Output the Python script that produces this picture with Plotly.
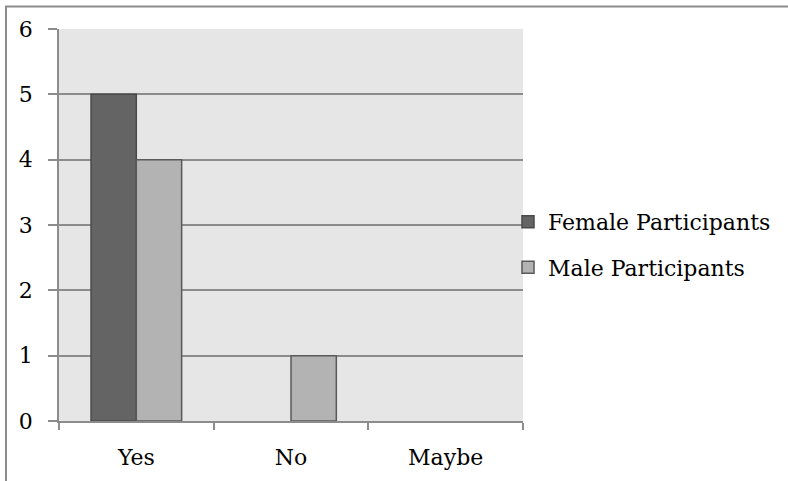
import plotly.graph_objects as go

categories = ["Yes", "No", "Maybe"]
female = [5, 0, 0]
male = [4, 1, 0]
y_ticks = [0, 1, 2, 3, 4, 5, 6]

W, H = 788, 481
L, R, T, B = 59, 523, 28.5, 421.5
pw, ph = R - L, B - T

def px_x(px):
    return (px - L) / pw

def px_y(py):
    return (B - py) / ph

font_family = "DejaVu Serif"
fsize = 22

fig = go.Figure()
fig.add_trace(go.Bar(
    x=categories, y=female, name="Female Participants",
    marker=dict(color="#646464",
                line=dict(color="#4a4a4a", width=[1.5 if v else 0 for v in female])),
    legendgroup="f",
))
fig.add_trace(go.Bar(
    x=categories, y=male, name="Male Participants",
    marker=dict(color="#b3b3b3",
                line=dict(color="#5a5a5a", width=[1.5 if v else 0 for v in male])),
    legendgroup="m",
))

fig.update_layout(
    width=W, height=H,
    margin=dict(l=L, r=W - R, t=T, b=H - B, pad=0),
    paper_bgcolor="white",
    plot_bgcolor="#e6e6e6",
    barmode="group",
    bargap=0.414,
    bargroupgap=0,
    font=dict(family=font_family, size=fsize, color="black"),
    legend=dict(
        x=px_x(508), xanchor="left", y=px_y(245), yanchor="middle",
        font=dict(family=font_family, size=fsize, color="black"),
        traceorder="grouped", tracegroupgap=14,
        bgcolor="rgba(0,0,0,0)",
        itemwidth=30,
    ),
    showlegend=True,
    xaxis=dict(
        type="category",
        showline=True, linecolor="#8c8c8c", linewidth=1.5,
        ticks="outside", tickson="boundaries", ticklen=7, tickcolor="#8c8c8c", tickwidth=1.5,
        showgrid=False,
        ticklabelstandoff=16,
    ),
    yaxis=dict(
        range=[0, 6], tickvals=y_ticks, ticktext=[str(v) for v in y_ticks],
        showline=True, linecolor="#8c8c8c", linewidth=1.5,
        ticks="outside", ticklen=9, tickcolor="#8c8c8c", tickwidth=1.5,
        showgrid=True, gridcolor="#8c8c8c", gridwidth=1.5,
        zeroline=False,
        ticklabelstandoff=11,
    ),
    shapes=[dict(
        type="rect", xref="paper", yref="paper",
        x0=px_x(6), x1=px_x(820), y0=px_y(520), y1=px_y(6),
        line=dict(color="#8c8c8c", width=2), fillcolor="rgba(0,0,0,0)",
        layer="below",
    )],
)

fig.write_html(
    "out.html",
    config={"displayModeBar": False},
    post_script="document.body.style.margin='0px';document.body.style.overflow='hidden';",
)
